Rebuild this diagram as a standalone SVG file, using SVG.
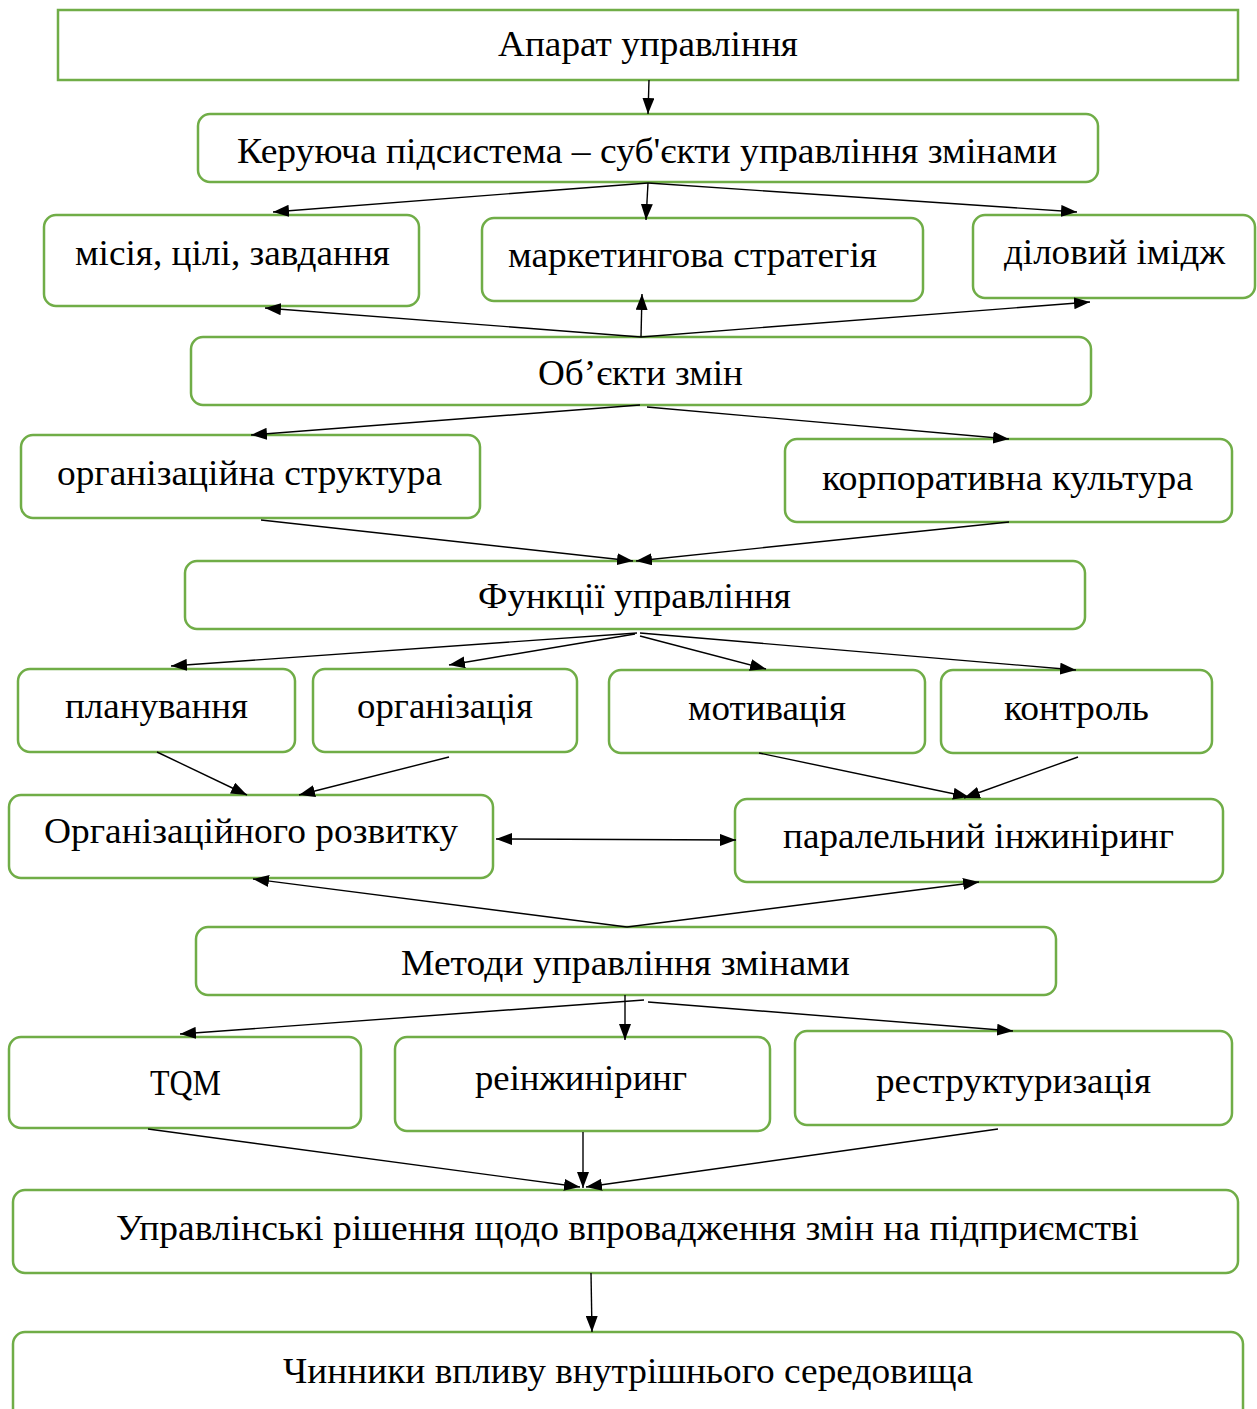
<svg xmlns="http://www.w3.org/2000/svg" width="1257" height="1409" viewBox="0 0 1257 1409">
<style>
.box{fill:#ffffff;stroke:#70ad47;stroke-width:2.5}
.t{font-family:"Liberation Serif","Times New Roman",serif;font-size:36px;fill:#000000}
.c{fill:none;stroke:#000000;stroke-width:1.4}
</style>
<defs>
<marker id="ah" viewBox="0 0 16 12" refX="16" refY="6" markerWidth="16" markerHeight="12" markerUnits="userSpaceOnUse" orient="auto-start-reverse">
<path d="M0,0 L16,6 L0,12 Z" fill="#000000"/>
</marker>
</defs>
<rect width="1257" height="1409" fill="#ffffff"/>
<g id="n1"><rect class="box" x="58" y="10" width="1180" height="70"/><text class="t" x="498" y="56" textLength="300" lengthAdjust="spacingAndGlyphs">Апарат управління</text></g>
<g id="n2"><rect class="box" x="198" y="114" width="900" height="68" rx="12"/><text class="t" x="237" y="163" textLength="820" lengthAdjust="spacingAndGlyphs">Керуюча підсистема – суб'єкти управління змінами</text></g>
<g id="n3"><rect class="box" x="44" y="215" width="375" height="91" rx="12"/><text class="t" x="75" y="265" textLength="315" lengthAdjust="spacingAndGlyphs">місія, цілі, завдання</text></g>
<g id="n4"><rect class="box" x="482" y="218" width="441" height="83" rx="12"/><text class="t" x="508" y="267" textLength="369" lengthAdjust="spacingAndGlyphs">маркетингова стратегія</text></g>
<g id="n5"><rect class="box" x="973" y="215" width="282" height="83" rx="12"/><text class="t" x="1004" y="264" textLength="221" lengthAdjust="spacingAndGlyphs">діловий імідж</text></g>
<g id="n6"><rect class="box" x="191" y="337" width="900" height="68" rx="12"/><text class="t" x="538" y="385" textLength="205" lengthAdjust="spacingAndGlyphs">Об’єкти змін</text></g>
<g id="n7"><rect class="box" x="21" y="435" width="459" height="83" rx="12"/><text class="t" x="57" y="485" textLength="385" lengthAdjust="spacingAndGlyphs">організаційна структура</text></g>
<g id="n8"><rect class="box" x="785" y="439" width="447" height="83" rx="12"/><text class="t" x="822" y="490" textLength="371" lengthAdjust="spacingAndGlyphs">корпоративна культура</text></g>
<g id="n9"><rect class="box" x="185" y="561" width="900" height="68" rx="12"/><text class="t" x="478" y="608" textLength="313" lengthAdjust="spacingAndGlyphs">Функції управління</text></g>
<g id="n10"><rect class="box" x="18" y="669" width="277" height="83" rx="12"/><text class="t" x="65" y="718" textLength="183" lengthAdjust="spacingAndGlyphs">планування</text></g>
<g id="n11"><rect class="box" x="313" y="669" width="264" height="83" rx="12"/><text class="t" x="357" y="718" textLength="176" lengthAdjust="spacingAndGlyphs">організація</text></g>
<g id="n12"><rect class="box" x="609" y="670" width="316" height="83" rx="12"/><text class="t" x="688" y="720" textLength="158" lengthAdjust="spacingAndGlyphs">мотивація</text></g>
<g id="n13"><rect class="box" x="941" y="670" width="271" height="83" rx="12"/><text class="t" x="1004" y="720" textLength="145" lengthAdjust="spacingAndGlyphs">контроль</text></g>
<g id="n14"><rect class="box" x="9" y="795" width="484" height="83" rx="12"/><text class="t" x="44" y="843" textLength="414" lengthAdjust="spacingAndGlyphs">Організаційного розвитку</text></g>
<g id="n15"><rect class="box" x="735" y="799" width="488" height="83" rx="12"/><text class="t" x="783" y="848" textLength="391" lengthAdjust="spacingAndGlyphs">паралельний інжиніринг</text></g>
<g id="n16"><rect class="box" x="196" y="927" width="860" height="68" rx="12"/><text class="t" x="401" y="975" textLength="449" lengthAdjust="spacingAndGlyphs">Методи управління змінами</text></g>
<g id="n17"><rect class="box" x="9" y="1037" width="352" height="91" rx="12"/><text class="t" x="150" y="1095" textLength="71" lengthAdjust="spacingAndGlyphs">TQM</text></g>
<g id="n18"><rect class="box" x="395" y="1037" width="375" height="94" rx="12"/><text class="t" x="475" y="1090" textLength="212" lengthAdjust="spacingAndGlyphs">реінжиніринг</text></g>
<g id="n19"><rect class="box" x="795" y="1031" width="437" height="94" rx="12"/><text class="t" x="876" y="1093" textLength="275" lengthAdjust="spacingAndGlyphs">реструктуризація</text></g>
<g id="n20"><rect class="box" x="13" y="1190" width="1225" height="83" rx="12"/><text class="t" x="116" y="1240" textLength="1023" lengthAdjust="spacingAndGlyphs">Управлінські рішення щодо впровадження змін на підприємстві</text></g>
<g id="n21"><rect class="box" x="13" y="1332" width="1230" height="100" rx="12"/><text class="t" x="283" y="1383" textLength="690" lengthAdjust="spacingAndGlyphs">Чинники впливу внутрішнього середовища</text></g>
<g id="connectors" class="c">
<line class="c" x1="649" y1="80" x2="648" y2="114" marker-end="url(#ah)"/>
<line class="c" x1="648" y1="183" x2="273" y2="212" marker-end="url(#ah)"/>
<line class="c" x1="648" y1="183" x2="646" y2="220" marker-end="url(#ah)"/>
<line class="c" x1="648" y1="183" x2="1077" y2="212" marker-end="url(#ah)"/>
<line class="c" x1="641" y1="337" x2="265" y2="308" marker-end="url(#ah)"/>
<line class="c" x1="641" y1="337" x2="642" y2="294" marker-end="url(#ah)"/>
<line class="c" x1="641" y1="337" x2="1090" y2="302" marker-end="url(#ah)"/>
<line class="c" x1="640" y1="405" x2="251" y2="435" marker-end="url(#ah)"/>
<line class="c" x1="647" y1="407" x2="1009" y2="439" marker-end="url(#ah)"/>
<line class="c" x1="261" y1="520" x2="633" y2="561" marker-end="url(#ah)"/>
<line class="c" x1="1009" y1="522" x2="636" y2="561" marker-end="url(#ah)"/>
<line class="c" x1="637" y1="633" x2="171" y2="666" marker-end="url(#ah)"/>
<line class="c" x1="635" y1="634" x2="449" y2="665" marker-end="url(#ah)"/>
<line class="c" x1="640" y1="636" x2="766" y2="669" marker-end="url(#ah)"/>
<line class="c" x1="640" y1="633" x2="1076" y2="670" marker-end="url(#ah)"/>
<line class="c" x1="157" y1="752" x2="247" y2="795" marker-end="url(#ah)"/>
<line class="c" x1="449" y1="757" x2="299" y2="795" marker-end="url(#ah)"/>
<line class="c" x1="759" y1="753" x2="969" y2="797" marker-end="url(#ah)"/>
<line class="c" x1="1078" y1="757" x2="964" y2="798" marker-end="url(#ah)"/>
<line class="c" x1="496" y1="839" x2="736" y2="840" marker-start="url(#ah)" marker-end="url(#ah)"/>
<line class="c" x1="627" y1="927" x2="253" y2="879" marker-end="url(#ah)"/>
<line class="c" x1="627" y1="927" x2="979" y2="882" marker-end="url(#ah)"/>
<line class="c" x1="625" y1="995" x2="625" y2="1040" marker-end="url(#ah)"/>
<line class="c" x1="644" y1="1000" x2="180" y2="1034" marker-end="url(#ah)"/>
<line class="c" x1="648" y1="1002" x2="1013" y2="1031" marker-end="url(#ah)"/>
<line class="c" x1="148" y1="1129" x2="580" y2="1187" marker-end="url(#ah)"/>
<line class="c" x1="583" y1="1132" x2="583" y2="1188" marker-end="url(#ah)"/>
<line class="c" x1="998" y1="1129" x2="586" y2="1187" marker-end="url(#ah)"/>
<line class="c" x1="591" y1="1273" x2="592" y2="1332" marker-end="url(#ah)"/>
</g>
</svg>
